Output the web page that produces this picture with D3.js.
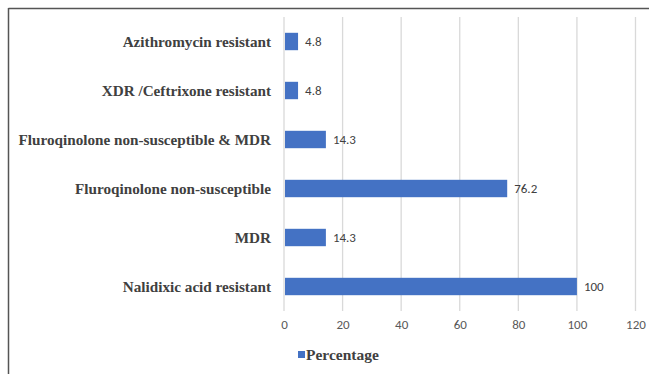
<!DOCTYPE html>
<html><head><meta charset="utf-8">
<script src="https://cdn.jsdelivr.net/npm/d3@7"></script>
<style>body{margin:0;background:#fff;}svg{display:block;}</style>
</head><body><svg id="c" width="649" height="374"></svg>
<script>
const categories = ["Azithromycin resistant","XDR /Ceftrixone resistant","Fluroqinolone non-susceptible & MDR","Fluroqinolone non-susceptible","MDR","Nalidixic acid resistant"];
const values = [4.8, 4.8, 14.3, 76.2, 14.3, 100];
const valueLabels = ["4.8","4.8","14.3","76.2","14.3","100"];
const xTicks = [0,20,40,60,80,100,120];
const seriesName = "Percentage";

const svg = d3.select("#c");
const color = "#4472C4";
// frame
svg.append("line").attr("x1",8.5).attr("x2",649).attr("y1",8.5).attr("y2",8.5).attr("stroke","#555").attr("stroke-width",1.5);
svg.append("line").attr("x1",8.5).attr("x2",8.5).attr("y1",8).attr("y2",374).attr("stroke","#555").attr("stroke-width",1.5);

const x = d3.scaleLinear().domain([0,120]).range([284,635.5]);
const y = d3.scaleBand().domain(categories).range([17,311]).paddingInner(0.645).paddingOuter(0.3225);

// gridlines
svg.append("g").selectAll("line").data(xTicks).join("line")
  .attr("x1",d=>x(d)).attr("x2",d=>x(d)).attr("y1",17).attr("y2",311)
  .attr("stroke","#d9d9d9").attr("stroke-width",1.3);

// bars
svg.append("g").selectAll("rect").data(values).join("rect")
  .attr("x",x(0)+1).attr("y",(d,i)=>y(categories[i]))
  .attr("width",d=>x(d)-x(0)-1).attr("height",y.bandwidth())
  .attr("fill",color);

// value labels
svg.append("g").selectAll("text").data(values).join("text")
  .attr("x",d=>x(d)+7).attr("y",(d,i)=>y(categories[i])+y.bandwidth()/2)
  .attr("dy","0.35em").attr("font-family","Carlito, Calibri, Lato, sans-serif")
  .attr("font-size",13).attr("fill","#404040").text((d,i)=>valueLabels[i]);

// category labels
svg.append("g").selectAll("text").data(categories).join("text")
  .attr("x",271).attr("y",d=>y(d)+y.bandwidth()/2).attr("dy","0.35em")
  .attr("text-anchor","end").attr("font-family","'Liberation Serif','Times New Roman',serif")
  .attr("font-weight","bold").attr("font-size",15.2).attr("fill","#404040").text(d=>d);

// x axis tick labels
const xAxis = d3.axisBottom(x).tickValues(xTicks).tickSize(0).tickPadding(0);
const ax = svg.append("g").attr("transform","translate(0,320)").call(xAxis);
ax.select(".domain").remove();
ax.selectAll("text").attr("font-family","Carlito, Calibri, Lato, sans-serif").attr("font-size",13).attr("fill","#595959");

// legend
svg.append("rect").attr("x",298).attr("y",351).attr("width",7).attr("height",7).attr("fill",color);
svg.append("text").attr("x",306).attr("y",355).attr("dy","0.35em")
  .attr("font-family","'Liberation Serif','Times New Roman',serif").attr("font-weight","bold")
  .attr("font-size",15.5).attr("fill","#404040").text(seriesName);
</script></body></html>
